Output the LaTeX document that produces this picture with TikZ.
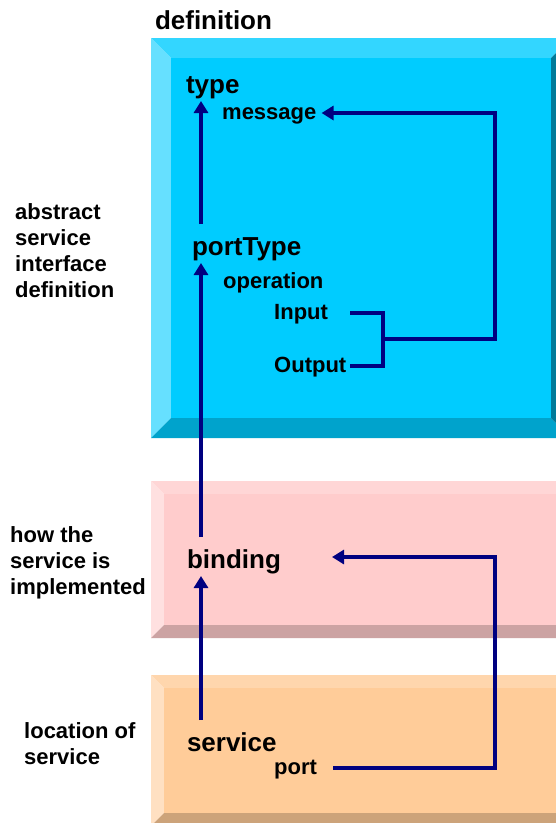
\documentclass[tikz,border=0pt]{standalone}
\usepackage{fontspec}
\setmainfont{Liberation Sans}
\usetikzlibrary{arrows.meta,positioning}
\definecolor{navy}{HTML}{000080}
% bevelled panels: top, left, face, bottom, right
\definecolor{deftop}{HTML}{33D6FF}
\definecolor{defleft}{HTML}{66E0FF}
\definecolor{defface}{HTML}{00CCFF}
\definecolor{defbottom}{HTML}{00A3CC}
\definecolor{defright}{HTML}{007A99}
\definecolor{bindtop}{HTML}{FFD6D6}
\definecolor{bindleft}{HTML}{FFE0E0}
\definecolor{bindface}{HTML}{FFCCCC}
\definecolor{bindbottom}{HTML}{CCA3A3}
\definecolor{bindright}{HTML}{CC9999}
\definecolor{svctop}{HTML}{FFD6AD}
\definecolor{svcleft}{HTML}{FFE0C2}
\definecolor{svcface}{HTML}{FFCC99}
\definecolor{svcbottom}{HTML}{CCA37A}
\definecolor{svcright}{HTML}{CC9966}
% \bevelbox{x0}{y0}{x1}{y1}{bevel}{colour prefix}
\newcommand{\bevelbox}[6]{%
  \fill[#6top] (#1,#2) -- (#3,#2) -- (#3-#5,#2+#5) -- (#1+#5,#2+#5) -- cycle;
  \fill[#6left] (#1,#2) -- (#1+#5,#2+#5) -- (#1+#5,#4-#5) -- (#1,#4) -- cycle;
  \fill[#6bottom] (#1,#4) -- (#1+#5,#4-#5) -- (#3-#5,#4-#5) -- (#3,#4) -- cycle;
  \fill[#6right] (#3,#2) -- (#3,#4) -- (#3-#5,#4-#5) -- (#3-#5,#2+#5) -- cycle;
  \fill[#6face] (#1+#5,#2+#5) rectangle (#3-#5,#4-#5);
}

\begin{document}
\begin{tikzpicture}[x=1pt, y=-1pt,
  big/.style={font=\fontsize{26}{30}\selectfont\bfseries, anchor=base west, inner sep=0pt, outer sep=2pt, text height=19pt, text depth=6pt},
  small/.style={font=\fontsize{22}{26}\selectfont\bfseries, anchor=base west, inner sep=0pt, text height=16pt, text depth=4pt},
  side/.style={font=\fontsize{22}{26}\selectfont\bfseries, anchor=north west, inner sep=0pt, align=left},
  wire/.style={draw=navy, line width=4pt},
  flow/.style={wire, -{Triangle[length=12pt,width=14pt]}}]
\useasboundingbox (0,0) rectangle (556,823);
\clip (0,0) rectangle (556,823);
\fill[white] (0,0) rectangle (556,823);

\bevelbox{151}{38}{571}{438}{20}{def}
\bevelbox{151}{481}{600}{638}{13}{bind}
\bevelbox{151}{675}{600}{826}{13}{svc}

% left hand captions
\node[side] (abstract) at (15,203) {abstract\\service\\interface\\definition};
\node[side] (how) at (10,526) {how the\\service is\\implemented};
\node[side] (where) at (24,722) {location of\\service};

% wsdl elements
\node[big] (definition) at (153,29) {definition};
\node[big] (type) at (184,93) {type};
\node[small] (message) at (222,119) {message};
\node[big] (portType) at (190,255) {portType};
\node[small] (operation) at (223,288) {operation};
\node[small] (input) at (274,319) {Input};
\node[small] (output) at (274,372) {Output};
\node[big] (binding) at (185,568) {binding};
\node[big] (service) at (185,751) {service};
\node[small] (port) at (274,774) {port};

\coordinate (spine) at (201,0);
\coordinate (rail) at (495,0);
\coordinate (stub) at (350,0);
\coordinate (fork) at (383,339);
\coordinate (bindtip) at (332,557);

\draw[flow, shorten <=10pt] (service.north -| spine) -- (binding.south -| spine);
\draw[flow, shorten <=10pt] (binding.north -| spine) -- (portType.south -| spine);
\draw[flow, shorten <=10pt] (portType.north -| spine) -- (type.south -| spine);
\draw[wire] (stub |- input.east) -| (fork) |- (stub |- output.east);
\draw[flow] (fork) -| (rail |- message.east) -- ([xshift=5pt]message.east);
\draw[flow] ([xshift=16pt]port.east) -| (rail |- bindtip) -- (bindtip);
\end{tikzpicture}
\end{document}
